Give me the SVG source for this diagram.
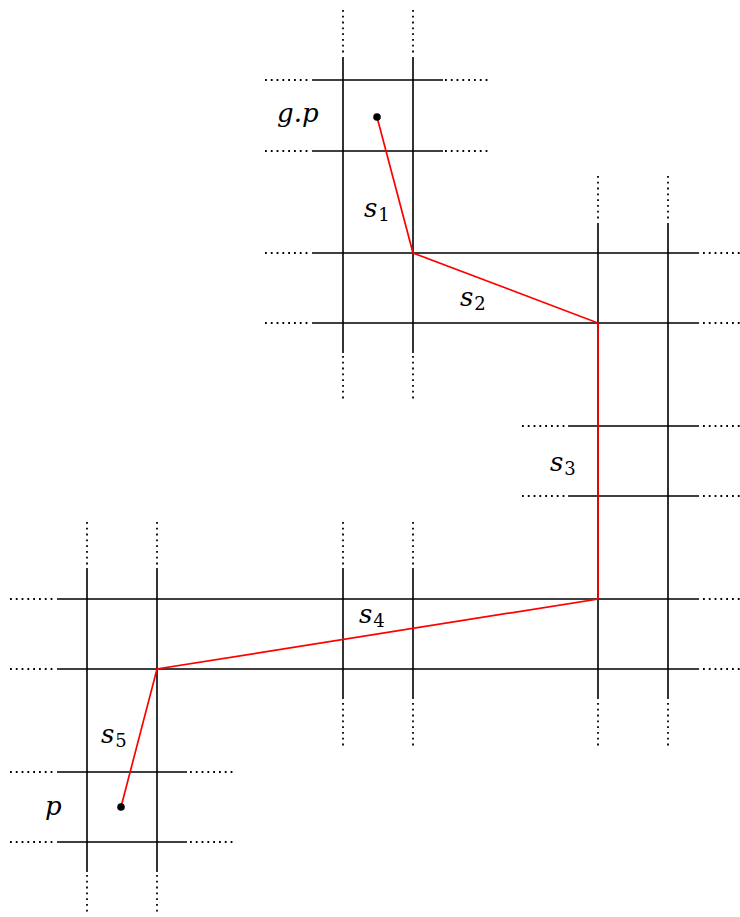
<svg xmlns="http://www.w3.org/2000/svg" width="740" height="917" viewBox="0 0 740 917">
<style>
.s{stroke:#000;stroke-width:1.6;fill:none}
.d{stroke:#000;stroke-width:1.8;fill:none;stroke-dasharray:1.8 4}
.r{stroke:#f00;stroke-width:1.7;fill:none;stroke-linejoin:miter}
.m{font-family:"DejaVu Serif",serif;font-style:italic;font-size:26px;fill:#000}
.n{font-style:normal;font-size:18px}
</style>
<rect width="740" height="917" fill="#fff"/>
<g id="block-gp">
<path class="s" d="M312 80H443M312 151H443M343 57V253M413 57V253"/>
<path class="d" d="M265 80H310M445 80H490M265 151H310M445 151H490M343 10V54M413 10V54"/>
</g>
<g id="block-top-row">
<path class="s" d="M312 253H699M312 323H699M343 253V353M413 253V353"/>
<path class="d" d="M265 253H310M703 253H745M265 323H310M703 323H745M343 356V400M413 356V400"/>
</g>
<g id="block-right">
<path class="s" d="M598 223V699M668 223V699M568 426H699M568 496H699"/>
<path class="d" d="M598 176V220M668 176V220M598 703V747M668 703V747M522 426H565M703 426H745M522 496H565M703 496H745"/>
</g>
<g id="block-bottom-row">
<path class="s" d="M57 599H699M57 669H699M343 568V699M413 568V699"/>
<path class="d" d="M10 599H53M703 599H745M10 669H53M703 669H745M343 522V565M413 522V565M343 703V747M413 703V747"/>
</g>
<g id="block-p">
<path class="s" d="M87 568V872M157 568V872M57 772H187M57 842H187"/>
<path class="d" d="M87 522V565M157 522V565M87 875V915M157 875V915M10 772H53M190 772H235M10 842H53M190 842H235"/>
</g>
<g id="connectors">
<polyline class="r" points="377,117 413,253 598,323 598,599 157,669 121,807"/>
</g>
<g id="points">
<circle cx="377" cy="117" r="3.8"/>
<circle cx="121" cy="807" r="3.8"/>
</g>
<g id="labels">
<text class="m" x="277" y="122">g<tspan dx="0">.</tspan><tspan dx="0">p</tspan></text>
<text class="m" x="364" y="217">s<tspan class="n" dx="1" dy="4">1</tspan></text>
<text class="m" x="460" y="306">s<tspan class="n" dx="1" dy="4">2</tspan></text>
<text class="m" x="550" y="471">s<tspan class="n" dx="1" dy="4">3</tspan></text>
<text class="m" x="359" y="623">s<tspan class="n" dx="1" dy="4">4</tspan></text>
<text class="m" x="101" y="743">s<tspan class="n" dx="1" dy="4">5</tspan></text>
<text class="m" x="45" y="815">p</text>
</g>
</svg>
